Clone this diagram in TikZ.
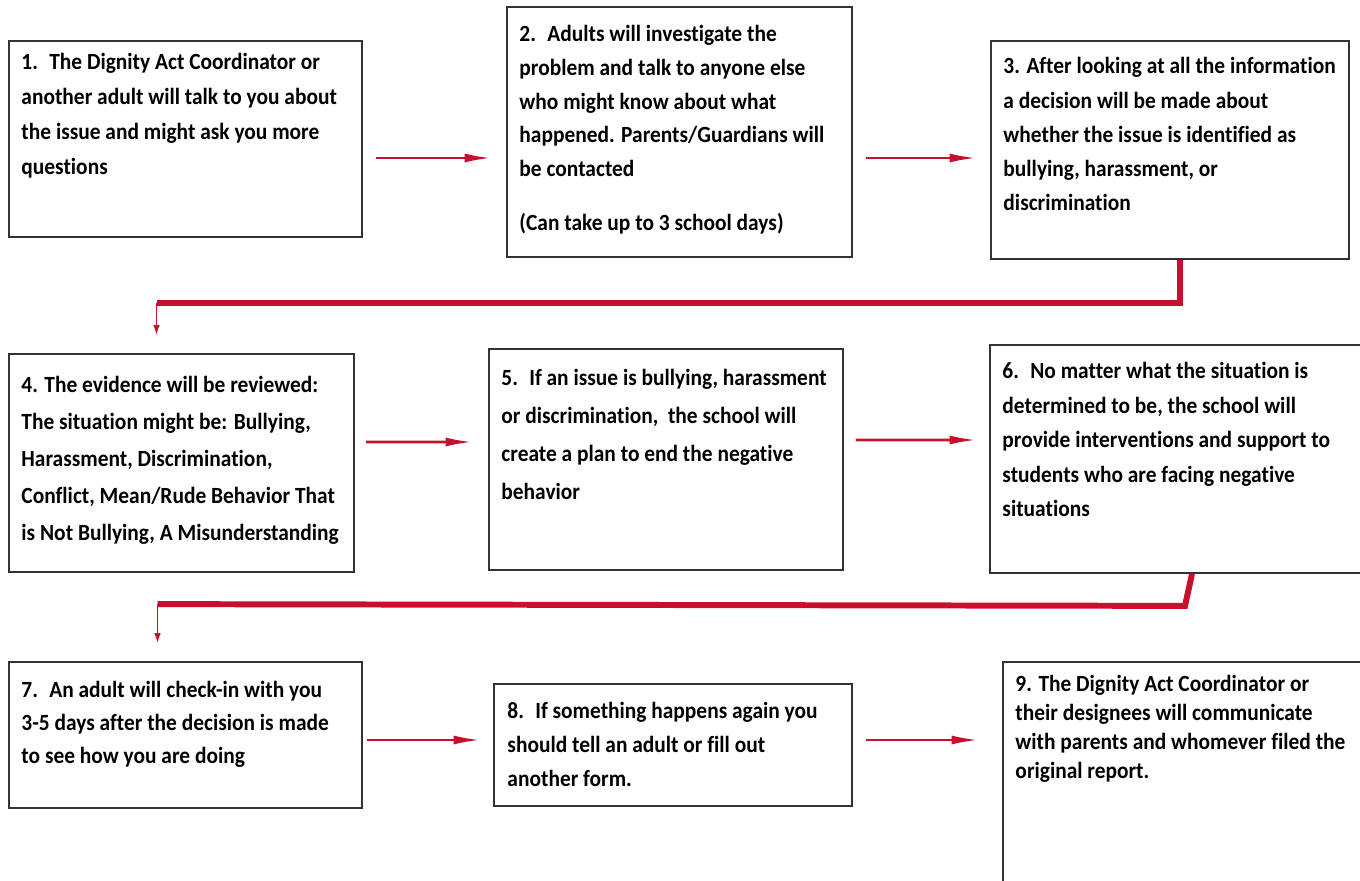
\documentclass[tikz,border=0pt]{standalone}
\usepackage{fontspec}
\setmainfont{Carlito}[FakeStretch=0.923, Ligatures=NoCommon]
\usetikzlibrary{arrows.meta,calc,fit,positioning}
\definecolor{flowred}{HTML}{C8102E}
\definecolor{boxline}{HTML}{333333}

\begin{document}
\begin{tikzpicture}[
    x=0.2mm, y=-0.2mm,
    stepbox/.style={draw=boxline, line width=1pt, inner sep=0pt, fit={#1}},
    steptext/.style={anchor=north west, inner sep=0pt, align=left,
                     font=\bfseries\fontsize{13.2}{#1}\selectfont},
    steptext/.default=19.9,
    flow/.style={draw=flowred, line width=1.6pt, -{Latex[length=5.5mm, width=1.8mm]}},
    elbow/.style={draw=flowred, line width=3.4pt},
    drop/.style={draw=flowred, line width=0.8pt, -{Latex[length=2mm, width=1.3mm]}}
]
    \clip (0,0) rectangle (1360,880);

    % Step boxes
    \node[stepbox={(9,41) (362,237)}] (s1) {};
    \node[stepbox={(507,7) (852,257)}] (s2) {};
    \node[stepbox={(991,41) (1349,259)}] (s3) {};
    \node[stepbox={(9,354) (354,572)}] (s4) {};
    \node[stepbox={(489,349) (843,570)}] (s5) {};
    \node[stepbox={(990,345) (1366,573)}] (s6) {};
    \node[stepbox={(9,662) (362,808)}] (s7) {};
    \node[stepbox={(494,684) (852,806)}] (s8) {};
    \node[stepbox={(1003,662) (1366,900)}] (s9) {};

    % Step texts
    \node[steptext, below right=2.6mm and 2.6mm of s1.north west] (t1)
        {1.~ The Dignity Act Coordinator or\\another adult will talk to you about\\the issue and might ask you more\\questions};
    \node[steptext=19.2, below right=3.8mm and 2.6mm of s2.north west] (t2)
        {2.~ Adults will investigate the\\problem and talk to anyone else\\who might know about what\\happened. Parents/Guardians will\\be contacted\\[4mm](Can take up to 3 school days)};
    \node[steptext=19.5, below right=3.4mm and 2.6mm of s3.north west] (t3)
        {3. After looking at all the information\\a decision will be made about\\whether the issue is identified as\\bullying, harassment, or\\discrimination};
    \node[steptext=21, below right=4.6mm and 2.6mm of s4.north west] (t4)
        {4. The evidence will be reviewed:\\The situation might be: Bullying,\\Harassment, Discrimination,\\Conflict, Mean/Rude Behavior That\\is Not Bullying, A Misunderstanding};
    \node[steptext=21.6, below right=4.2mm and 2.6mm of s5.north west] (t5)
        {5.~ If an issue is bullying, harassment\\or discrimination,~ the school will\\create a plan to end the negative\\behavior};
    \node[steptext=19.6, below right=3.6mm and 2.6mm of s6.north west] (t6)
        {6.~ No matter what the situation is\\determined to be, the school will\\provide interventions and support to\\students who are facing negative\\situations};
    \node[steptext=18.6, below right=4mm and 2.6mm of s7.north west] (t7)
        {7.~ An adult will check-in with you\\3-5 days after the decision is made\\to see how you are doing};
    \node[steptext=19.4, below right=3.8mm and 2.8mm of s8.north west] (t8)
        {8.~ If something happens again you\\should tell an adult or fill out\\another form.};
    \node[steptext=16.5, below right=2.8mm and 2.6mm of s9.north west] (t9)
        {9. The Dignity Act Coordinator or\\their designees will communicate\\with parents and whomever filed the\\original report.};

    % Bend points of the row changes
    \coordinate (k1) at ($(s4.north)+(-25,-50)$);
    \coordinate (k2) at ($(s7.north)+(-28,-57)$);

    % Arrows along the rows
    \draw[flow] ($(s1.east)+(13,19)$) -- ($(s2.west)+(-14,26)$);
    \draw[flow] ($(s2.east)+(13,26)$) -- ($(s3.west)+(-13,8)$);
    \draw[flow] ($(s4.east)+(11,-21)$) -- ($(s5.west)+(-15,-17.5)$);
    \draw[flow] ($(s5.east)+(12,-19.5)$) -- ($(s6.west)+(-12,-19)$);
    \draw[flow] ($(s7.east)+(4,5)$) -- ($(s8.west)+(-12,-5)$);
    \draw[flow] ($(s8.east)+(13,-5)$) -- ($(s9.west)+(-23,-41)$);

    % Row changes
    \draw[elbow] ($(s3.south)+(10,0)$) |- (k1);
    \draw[drop] (k1) -- ($(s4.north)+(-25,-18)$);
    \draw[elbow] ($(s6.south)+(14,0)$) -- ++(-7,32) -- (k2);
    \draw[drop] (k2) -- ($(s7.north)+(-28,-18)$);
\end{tikzpicture}
\end{document}
